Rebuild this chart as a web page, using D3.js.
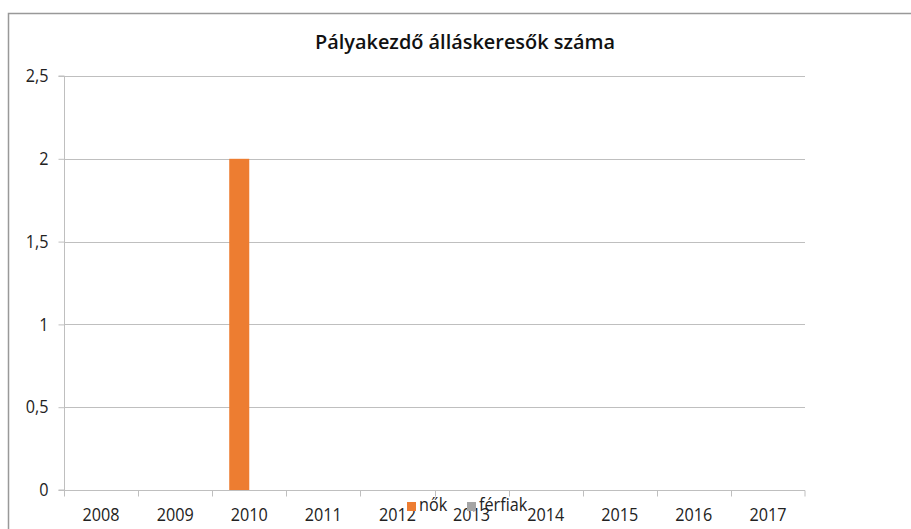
<!DOCTYPE html>
<html><head><meta charset="utf-8">
<script src="https://cdn.jsdelivr.net/npm/d3@7"></script>
<style>body{margin:0;background:#fff}svg{display:block}</style>
</head><body>
<svg id="c" width="911" height="529"></svg>
<script>
const categories = ["2008","2009","2010","2011","2012","2013","2014","2015","2016","2017"];
const seriesNames = ["nők","férfiak"];
const nok = [0,0,2,0,0,0,0,0,0,0];
const ferfiak = [0,0,0,0,0,0,0,0,0,0];
const yTicks = [0,0.5,1,1.5,2,2.5];
const colors = ["#ed7d31","#a5a5a5"];
const title = "Pályakezdő álláskeresők száma";

const svg = d3.select("#c");
const font = "'Open Sans', sans-serif";
const m = {l:64, r:805, t:76, b:490};
const sx = 0.9;

svg.append("path").attr("d","M8.5,529 V13.5 H911").attr("fill","none").attr("stroke","#999").attr("stroke-width",1.5);

const x = d3.scaleBand().domain(categories).range([m.l,m.r]).paddingInner(0).paddingOuter(0);
const y = d3.scaleLinear().domain([0,2.5]).range([m.b,m.t]);

// gridlines
svg.append("g").selectAll("line").data(yTicks.filter(d=>d>0)).join("line")
  .attr("x1",m.l).attr("x2",m.r).attr("y1",d=>Math.round(y(d))+0.5).attr("y2",d=>Math.round(y(d))+0.5)
  .attr("stroke","#bfbfbf").attr("stroke-width",1);

const sub = d3.scaleBand().domain(seriesNames).range([0,x.bandwidth()]).paddingInner(0.0).paddingOuter(0.85);
const data = [nok, ferfiak];
const bars = svg.append("g");
seriesNames.forEach((s,si)=>{
  bars.selectAll(null).data(categories).join("rect")
    .attr("x",(c)=>x(c)+sub(s))
    .attr("width",sub.bandwidth())
    .attr("y",(c,i)=>y(data[si][i]))
    .attr("height",(c,i)=>y(0)-y(data[si][i]))
    .attr("fill",colors[si]);
});

// y axis
const yAxis = d3.axisLeft(y).tickValues(yTicks).tickSize(6).tickPadding(9)
  .tickFormat(d=>String(d).replace(".",","));
const gy = svg.append("g").attr("transform",`translate(${m.l+0.5},0)`).call(yAxis);
gy.select(".domain").attr("stroke","#bfbfbf").attr("d",`M-6,${m.t}H0V${m.b}H-6`);
gy.selectAll(".tick line").attr("stroke","#bfbfbf");
gy.selectAll("text").attr("font-family",font).attr("font-size",18).attr("fill","#222")
  .attr("transform",`scale(${sx},1)`).attr("x",-16/sx);

// x axis
const xAxis = d3.axisBottom(x).tickSize(0).tickPadding(18);
const gx = svg.append("g").attr("transform",`translate(0,${m.b+0.5})`).call(xAxis);
gx.select(".domain").attr("stroke","#bfbfbf").attr("d",`M${m.l},0H${m.r}V6`);
gx.selectAll("text").attr("font-family",font).attr("font-size",18).attr("fill","#222")
  .attr("transform",`scale(${sx},1)`);
gx.append("g").selectAll("line").data(categories).join("line")
  .attr("x1",c=>Math.round(x(c))+0.5).attr("x2",c=>Math.round(x(c))+0.5).attr("y1",0).attr("y2",6)
  .attr("stroke","#bfbfbf");

// title
svg.append("text").attr("x",465).attr("y",49).attr("text-anchor","middle")
  .attr("font-family",font).attr("font-size",19).attr("font-weight",600).attr("fill","#111")
  .attr("textLength",300).attr("lengthAdjust","spacingAndGlyphs").text(title);

// legend
const leg = svg.append("g");
const legPos = [407, 467];
seriesNames.forEach((s,i)=>{
  leg.append("rect").attr("x",legPos[i]).attr("y",502).attr("width",9).attr("height",9).attr("fill",colors[i]);
  leg.append("text").attr("x",(legPos[i]+12)/sx).attr("y",511).attr("font-family",font).attr("font-size",18)
    .attr("fill","#222").attr("transform",`scale(${sx},1)`).text(s);
});
</script>
</body></html>
